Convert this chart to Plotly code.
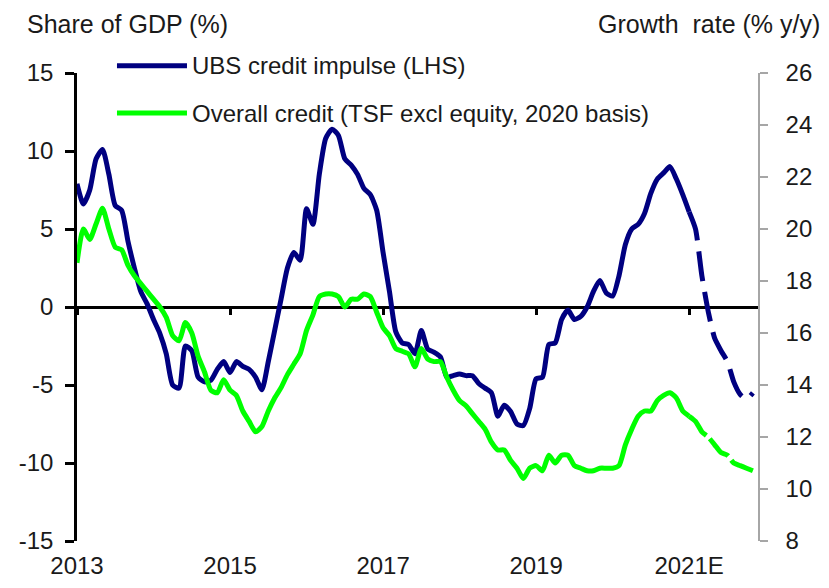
import plotly.graph_objects as go

# monthly data, Jan 2013 .. Nov 2021 (last 10 months are the estimate / dashed part)
start_year = 2013
forecast_from = 96  # index of Jan 2021, where the lines turn dashed

ubs_impulse = [
    7.9, 6.6, 7.5, 9.5, 10.1, 8.5, 6.5, 6.2, 4.2, 2.5, 1.0, 0.2,
    -0.8, -1.7, -3.0, -5.0, -5.2, -2.5, -2.8, -4.5, -4.8, -4.7, -4.0, -3.5,
    -4.2, -3.5, -3.8, -4.0, -4.5, -5.3, -3.5, -1.5, 0.5, 2.5, 3.5, 3.0,
    6.3, 5.3, 8.5, 10.8, 11.4, 11.0, 9.5, 9.1, 8.5, 7.6, 7.2, 6.2,
    3.5, 1.0, -1.6, -2.3, -2.4, -3.0, -1.5, -2.7, -2.9, -3.2, -4.5, -4.4,
    -4.3, -4.4, -4.4, -4.9, -5.2, -5.5, -7.0, -6.3, -6.7, -7.5, -7.6, -6.5,
    -4.6, -4.5, -2.4, -2.3, -0.8, -0.2, -0.8, -0.6, 0.0, 1.0, 1.7, 0.9,
    0.7, 2.0, 4.0, 5.0, 5.3, 6.0, 7.3, 8.2, 8.6, 9.0, 8.2, 7.2,
    6.1, 5.0, 2.0, -0.3, -2.0, -2.8, -3.5, -4.8, -5.6, -5.9, -5.5,
]

overall_credit = [
    18.7, 20.0, 19.6, 20.2, 20.8, 20.0, 19.3, 19.2, 18.6, 18.2, 17.9, 17.6,
    17.3, 17.0, 16.6, 15.9, 15.7, 16.4, 16.0, 15.1, 14.5, 13.8, 13.7, 14.2,
    13.8, 13.6, 13.0, 12.6, 12.2, 12.4, 13.0, 13.5, 13.9, 14.4, 14.8, 15.2,
    16.1, 16.7, 17.4, 17.5, 17.5, 17.4, 17.0, 17.3, 17.3, 17.5, 17.4, 16.8,
    16.2, 15.9, 15.4, 15.3, 15.2, 14.7, 15.4, 15.0, 14.9, 14.9, 14.3, 13.8,
    13.4, 13.2, 12.9, 12.6, 12.3, 11.8, 11.5, 11.5, 11.1, 10.8, 10.4, 10.8,
    10.9, 10.7, 11.3, 11.0, 11.3, 11.3, 10.9, 10.8, 10.7, 10.7, 10.8, 10.8,
    10.8, 10.9, 11.7, 12.3, 12.8, 13.0, 13.0, 13.4, 13.6, 13.7, 13.5, 13.0,
    12.8, 12.6, 12.2, 12.0, 11.7, 11.4, 11.3, 11.0, 10.9, 10.8, 10.7,
]

tick_years = [2013, 2015, 2017, 2019, 2021]
tick_text = ["2013", "2015", "2017", "2019", "2021E"]
lhs_ticks = [-15, -10, -5, 0, 5, 10, 15]
rhs_ticks = [8, 10, 12, 14, 16, 18, 20, 22, 24, 26]

t = [start_year + i / 12 for i in range(len(ubs_impulse))]

NAVY = "#000080"
LIME = "#00FF00"
FONT = "Liberation Sans, Arial, sans-serif"

fig = go.Figure()

#! blue series, left axis
fig.add_trace(go.Scatter(x=t[:forecast_from + 1], y=ubs_impulse[:forecast_from + 1],
                         mode="lines", line=dict(color=NAVY, width=5, shape="spline", smoothing=0.6),
                         name="UBS credit impulse (LHS)", showlegend=False))
fig.add_trace(go.Scatter(x=t[forecast_from:], y=ubs_impulse[forecast_from:],
                         mode="lines", line=dict(color=NAVY, width=5, shape="spline", smoothing=0.6,
                                                 dash="30px,11px"),
                         showlegend=False))

#! green series, right axis (on x2 so the zero-line ticks get drawn)
fig.add_trace(go.Scatter(x=t[:forecast_from + 1], y=overall_credit[:forecast_from + 1],
                         xaxis="x2", yaxis="y2",
                         mode="lines", line=dict(color=LIME, width=5, shape="spline", smoothing=0.6),
                         name="Overall credit (TSF excl equity, 2020 basis)", showlegend=False))
fig.add_trace(go.Scatter(x=t[forecast_from:], y=overall_credit[forecast_from:],
                         xaxis="x2", yaxis="y2",
                         mode="lines", line=dict(color=LIME, width=5, shape="spline", smoothing=0.6,
                                                 dash="26px,5px"),
                         showlegend=False))

x_range = [2013, 2021.9]

# the page body has an 8px default margin, so the figure is a bit smaller than the window
fig.update_layout(
    width=821, height=580,
    margin=dict(l=69, r=71, t=65, b=47),
    plot_bgcolor="white", paper_bgcolor="white",
    font=dict(family=FONT, size=24, color="#1a1a1a"),
    showlegend=False,
    xaxis=dict(range=x_range, tickvals=tick_years, ticktext=tick_text, automargin=False,
               showline=False, showgrid=False, zeroline=False, ticks="",
               ticklabelstandoff=8, tickfont=dict(size=24)),
    xaxis2=dict(range=x_range, overlaying="x", anchor="free", position=0.5, automargin=False,
                tickvals=tick_years, showticklabels=False, showline=False,
                showgrid=False, zeroline=False,
                ticks="outside", ticklen=7, tickwidth=2.5, tickcolor="black"),
    yaxis=dict(range=[-15, 15], tickvals=lhs_ticks, ticktext=[str(v) for v in lhs_ticks],
               showgrid=False, automargin=False,
               zeroline=True, zerolinecolor="black", zerolinewidth=2.5,
               showline=True, linecolor="black", linewidth=2.5,
               ticks="outside", ticklen=9, tickwidth=2.5, tickcolor="black",
               ticklabelstandoff=7, tickfont=dict(size=24)),
    yaxis2=dict(range=[8, 26], tickvals=rhs_ticks, overlaying="y", side="right", anchor="x",
                showgrid=False, zeroline=False, automargin=False,
                showline=True, linecolor="#A6A6A6", linewidth=1.5,
                ticks="outside", ticklen=8, tickwidth=1.5, tickcolor="#A6A6A6",
                ticklabelstandoff=13, tickfont=dict(size=24)),
)

#! axis titles sit above the plot, like the original
fig.add_annotation(text="Share of GDP (%)", xref="paper", yref="paper",
                   x=-0.077, y=1.105, xanchor="left", yanchor="middle",
                   showarrow=False, font=dict(size=25))
fig.add_annotation(text="Growth  rate (% y/y)", xref="paper", yref="paper",
                   x=1.094, y=1.105, xanchor="right", yanchor="middle",
                   showarrow=False, font=dict(size=25))

#! hand-drawn legend (plotly's legend swatch is too short)
legend_items = [("UBS credit impulse (LHS)", NAVY, 1.0155),
                ("Overall credit (TSF excl equity, 2020 basis)", LIME, 0.9145)]
for label, col, ypos in legend_items:
    fig.add_shape(type="line", xref="paper", yref="paper",
                  x0=0.0587, x1=0.1615, y0=ypos, y1=ypos,
                  line=dict(color=col, width=5))
    fig.add_annotation(text=label, xref="paper", yref="paper",
                       x=0.166, y=ypos, xanchor="left", yanchor="middle",
                       showarrow=False, font=dict(size=24))

fig.write_html("out.html")
